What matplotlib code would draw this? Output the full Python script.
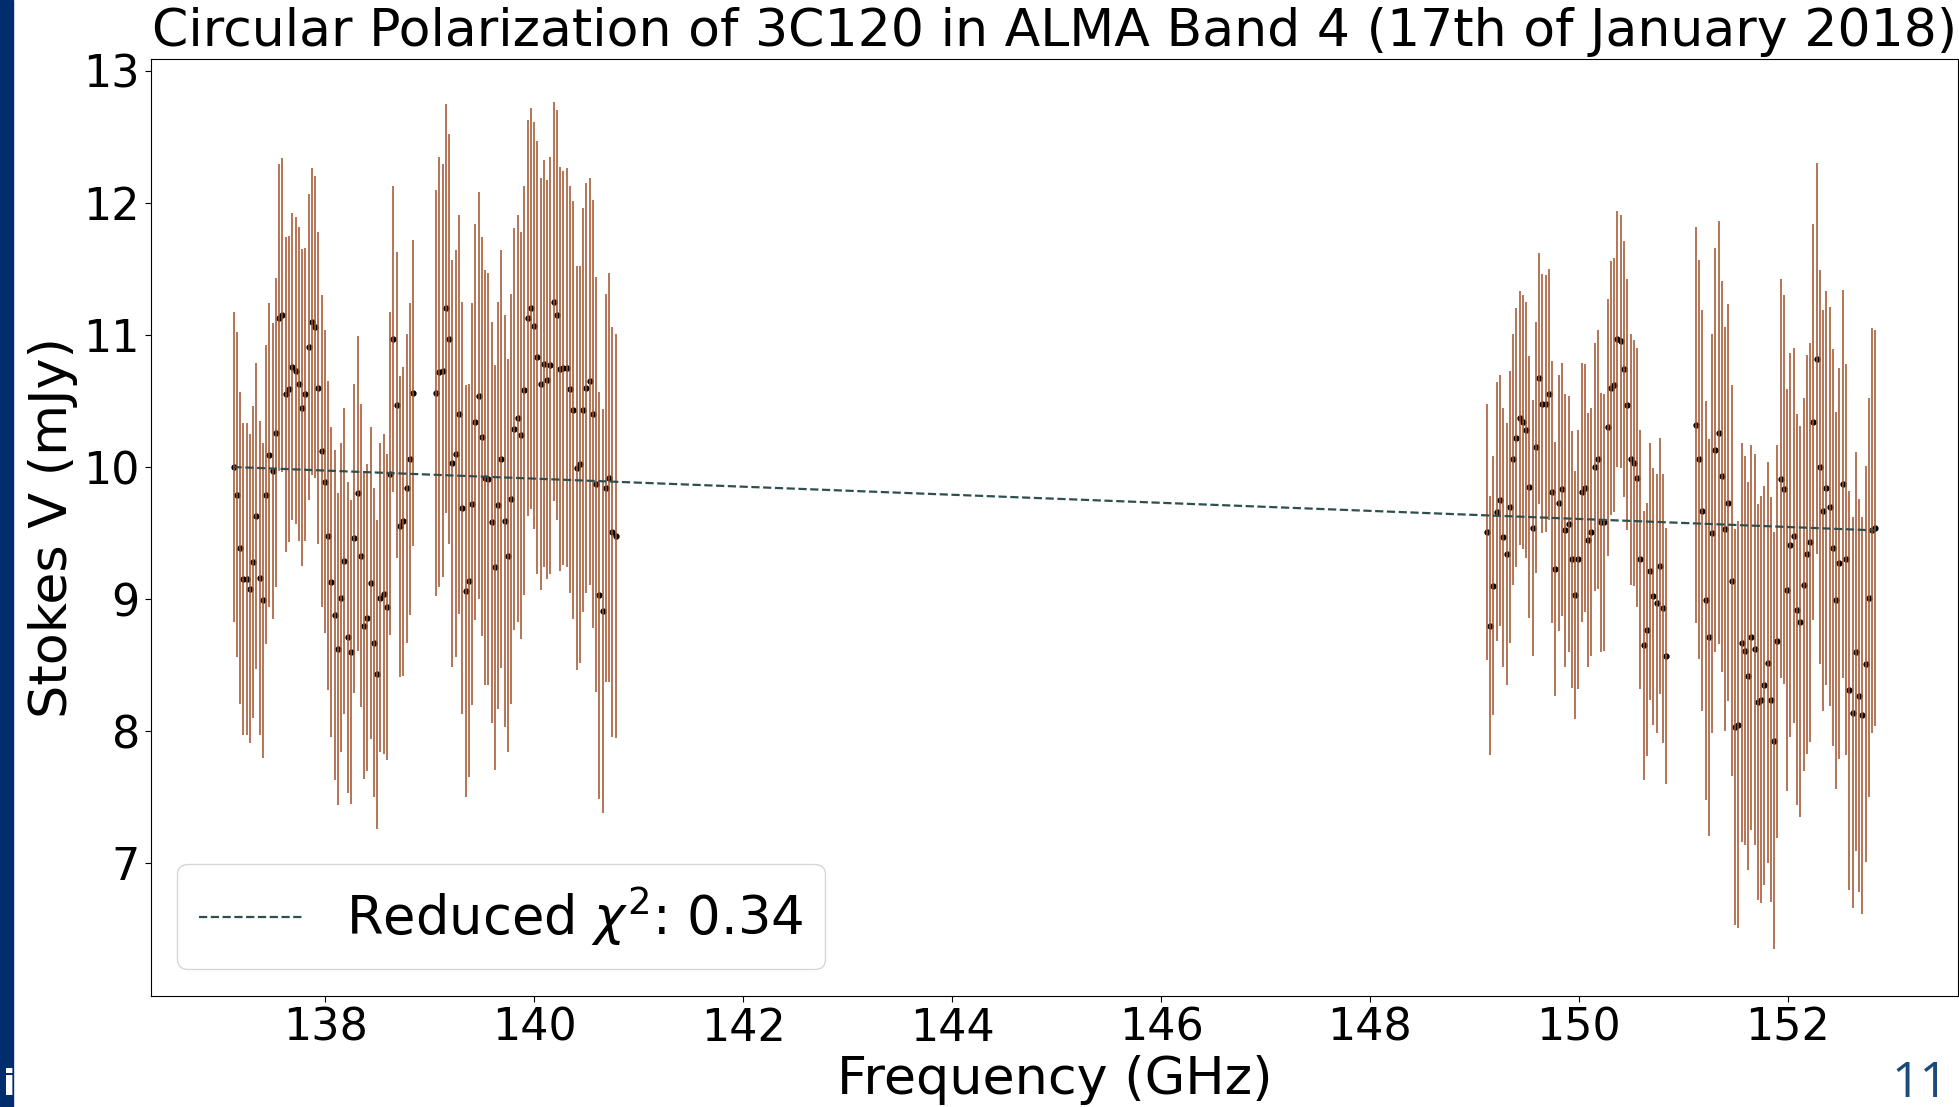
import matplotlib
matplotlib.use("Agg")
import matplotlib.pyplot as plt
from matplotlib.patches import Rectangle
import numpy as np

# channel grid of the four spectral windows (GHz)
spw_start = [137.12, 139.06, 149.12, 151.12]
chan_width = 0.03125
n_chan = 56

# Stokes V per channel (mJy) and 1-sigma errors
spw1_v = [10.00, 9.79, 9.39, 9.15, 9.15, 9.08, 9.28, 9.63, 9.16, 8.99,
          9.79, 10.09, 9.97, 10.26, 11.13, 11.15, 10.55, 10.59, 10.76, 10.73,
          10.63, 10.45, 10.55, 10.91, 11.10, 11.06, 10.60, 10.12, 9.89, 9.48,
          9.13, 8.88, 8.62, 9.01, 9.29, 8.71, 8.60, 9.46, 9.80, 9.33,
          8.80, 8.86, 9.12, 8.67, 8.43, 9.01, 9.04, 8.94, 9.95, 10.97,
          10.47, 9.55, 9.59, 9.84, 10.06, 10.56]
spw1_err = [1.17, 1.23, 1.18, 1.18, 1.18, 1.17, 1.18, 1.16, 1.19, 1.19,
            1.13, 1.15, 1.12, 1.17, 1.16, 1.19, 1.19, 1.16, 1.16, 1.16,
            1.19, 1.20, 1.11, 1.16, 1.16, 1.14, 1.18, 1.18, 1.15, 1.17,
            1.17, 1.25, 1.18, 1.17, 1.16, 1.18, 1.15, 1.17, 1.19, 1.15,
            1.16, 1.16, 1.18, 1.17, 1.17, 1.17, 1.21, 1.16, 1.22, 1.16,
            1.16, 1.14, 1.17, 1.17, 1.18, 1.16]

spw2_v = [10.56, 10.72, 10.73, 11.20, 10.97, 10.03, 10.10, 10.40, 9.69, 9.06,
          9.14, 9.72, 10.34, 10.54, 10.23, 9.92, 9.91, 9.58, 9.24, 9.71,
          10.06, 9.59, 9.33, 9.76, 10.29, 10.37, 10.24, 10.58, 11.13, 11.20,
          11.07, 10.83, 10.63, 10.78, 10.66, 10.77, 11.25, 11.15, 10.74, 10.75,
          10.75, 10.59, 10.43, 9.99, 10.02, 10.43, 10.60, 10.65, 10.40, 9.87,
          9.03, 8.91, 9.84, 9.92, 9.51, 9.48]
spw2_err = [1.54, 1.63, 1.56, 1.55, 1.55, 1.54, 1.54, 1.51, 1.56, 1.56,
            1.49, 1.52, 1.50, 1.54, 1.51, 1.57, 1.56, 1.52, 1.53, 1.54,
            1.58, 1.56, 1.49, 1.55, 1.52, 1.54, 1.54, 1.55, 1.50, 1.52,
            1.54, 1.64, 1.56, 1.54, 1.51, 1.58, 1.51, 1.55, 1.53, 1.49,
            1.51, 1.54, 1.58, 1.53, 1.50, 1.53, 1.55, 1.54, 1.62, 1.57,
            1.54, 1.53, 1.47, 1.55, 1.55, 1.53]

spw3_v = [9.51, 8.80, 9.10, 9.66, 9.75, 9.47, 9.34, 9.70, 10.06, 10.22,
          10.37, 10.34, 10.28, 9.85, 9.54, 10.15, 10.67, 10.48, 10.48, 10.55,
          9.81, 9.23, 9.73, 9.83, 9.52, 9.57, 9.30, 9.03, 9.30, 9.81,
          9.84, 9.45, 9.51, 10.00, 10.06, 9.58, 9.58, 10.30, 10.60, 10.62,
          10.97, 10.95, 10.74, 10.47, 10.06, 10.03, 9.92, 9.30, 8.65, 8.77,
          9.21, 9.02, 8.97, 9.25, 8.93, 8.57]
spw3_err = [0.97, 0.98, 0.98, 0.98, 0.95, 0.98, 0.99, 1.03, 0.95, 0.98,
            0.96, 0.96, 0.97, 0.99, 0.97, 0.95, 0.95, 0.98, 0.97, 0.95,
            0.99, 0.96, 0.97, 0.96, 1.03, 0.97, 0.97, 0.94, 0.98, 0.98,
            0.94, 0.96, 0.94, 0.94, 0.98, 0.98, 0.97, 0.97, 0.96, 0.96,
            0.97, 0.96, 0.97, 0.95, 0.95, 0.93, 0.98, 0.98, 1.02, 0.96,
            0.97, 0.97, 0.98, 0.97, 1.02, 0.97]

spw4_v = [10.32, 10.06, 9.67, 8.99, 8.71, 9.50, 10.13, 10.26, 9.93, 9.53,
          9.73, 9.14, 8.03, 8.05, 8.67, 8.61, 8.42, 8.71, 8.62, 8.22,
          8.24, 8.35, 8.52, 8.24, 7.93, 8.68, 9.91, 9.83, 9.07, 9.41,
          9.48, 8.92, 8.83, 9.11, 9.34, 9.43, 10.34, 10.82, 10.00, 9.67,
          9.84, 9.70, 9.39, 8.99, 9.27, 9.87, 9.30, 8.31, 8.14, 8.60,
          8.27, 8.12, 8.51, 9.01, 9.52, 9.54]
spw4_err = [1.50, 1.51, 1.52, 1.51, 1.50, 1.51, 1.53, 1.60, 1.48, 1.53,
            1.50, 1.48, 1.50, 1.54, 1.51, 1.47, 1.47, 1.46, 1.48, 1.50,
            1.54, 1.51, 1.52, 1.53, 1.58, 1.49, 1.51, 1.47, 1.52, 1.45,
            1.42, 1.48, 1.48, 1.41, 1.51, 1.51, 1.50, 1.48, 1.49, 1.52,
            1.49, 1.51, 1.50, 1.43, 1.48, 1.47, 1.48, 1.51, 1.48, 1.51,
            1.49, 1.50, 1.50, 1.51, 1.53, 1.50]

# linear fit (slope mJy/GHz, intercept mJy)
fit_coeffs = [-0.0305, 14.182]
chi2_red = 0.34

freq = np.concatenate([s + chan_width * np.arange(n_chan) for s in spw_start])
stokes_v = np.concatenate([spw1_v, spw2_v, spw3_v, spw4_v])
stokes_err = np.concatenate([spw1_err, spw2_err, spw3_err, spw4_err])

W, H = 1959, 1107
fig = plt.figure(figsize=(W / 100, H / 100), dpi=100)
ax = fig.add_axes([151 / W, 1 - 995.5 / H, (1958 - 151) / W, (995.5 - 59.4) / H])

ax.plot(freq, stokes_v, 'o', ms=3.5, color='black', zorder=2)
ax.errorbar(freq, stokes_v, yerr=stokes_err, fmt='none', ecolor='sienna',
            elinewidth=1.4, alpha=0.8, zorder=3)
ax.plot(freq, np.polyval(fit_coeffs, freq), '--', color='darkslategray', lw=1.6,
        zorder=4, label=r'Reduced $\chi^2$: ' + f'{chi2_red:.2f}')

ax.set_xlim(136.33, 153.63)
ax.set_ylim(6.0, 13.085)
ax.set_xticks(np.arange(138, 153, 2))
ax.set_yticks(np.arange(7, 14, 1))
ax.tick_params(labelsize=32, length=4.5)

ax.set_title('Circular Polarization of 3C120 in ALMA Band 4 (17th of January 2018)',
             fontsize=37.5, pad=9.4)
ax.set_xlabel('Frequency (GHz)', fontsize=37.7)
ax.set_ylabel('Stokes V (mJy)', fontsize=37.7)
ax.legend(loc='lower left', fontsize=38)

# slide decorations
fig.patches.append(Rectangle((0, 0), 13 / W, 1, transform=fig.transFigure,
                             color='#002d6e', zorder=0))
fig.text(3 / W, 1 - 1095 / H, 'i', color='white', fontsize=26, fontweight='bold',
         va='baseline')
fig.text(1948 / W, 1 - 1097 / H, '11', color='#1a4a7a', fontsize=36,
         family=['Open Sans', 'DejaVu Sans'], ha='right', va='baseline')

fig.savefig('out.png', dpi=100)
